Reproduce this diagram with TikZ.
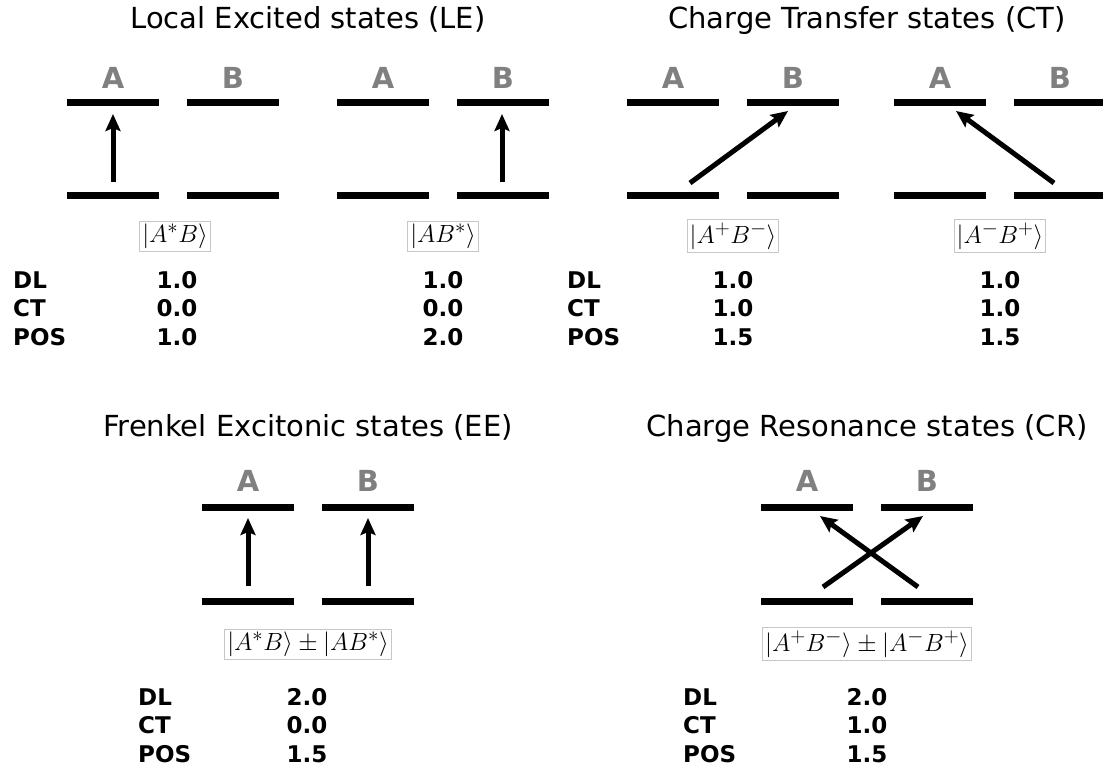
\documentclass[tikz,border=0pt]{standalone}
\usepackage[no-math]{fontspec}
\newfontfamily\dejavu{DejaVu Sans}
\DeclareMathSizes{27}{27}{21}{17}
\usetikzlibrary{arrows.meta}
\begin{document}
\begin{tikzpicture}[x=1pt,y=-1pt,
  level/.style={fill=black, inner sep=0pt, minimum width=92pt, minimum height=7pt},
  orb/.style={font=\dejavu\bfseries\fontsize{29}{29}\selectfont, text=black!50, anchor=base, inner sep=0pt},
  ket/.style={draw=black!22, line width=0.8pt, inner sep=2.5pt, font=\fontsize{27}{27}\selectfont},
  ttl/.style={font=\dejavu\fontsize{29}{29}\selectfont, anchor=base, inner sep=0pt},
  key/.style={font=\dejavu\bfseries\fontsize{23}{23}\selectfont, anchor=base west, inner sep=0pt},
  val/.style={font=\dejavu\bfseries\fontsize{23}{23}\selectfont, anchor=base, inner sep=0pt},
  exc/.style={line width=5pt, -{Stealth[length=17pt,width=15pt,inset=3pt]}}]
\useasboundingbox (0,0) rectangle (1103,774);

% titles
\node[ttl] (t1) at (308,28) {Local Excited states (LE)};
\node[ttl] (t2) at (867,28) {Charge Transfer states (CT)};
\node[ttl] (t3) at (308,436) {Frenkel Excitonic states (EE)};
\node[ttl] (t4) at (867,436) {Charge Resonance states (CR)};

% panel 1
\begin{scope}[shift={(67,0)}]
\node[level] (p1At) at (46,102) {};
\node[level] (p1Bt) at (166,102) {};
\node[level] (p1Ab) at (46,195) {};
\node[level] (p1Bb) at (166,195) {};
\node[orb] (p1A) at (46,88) {A};
\node[orb] (p1B) at (166,88) {B};
\node[ket] (p1k) at (108,236) {$|A^{*}B\rangle$};
\coordinate (p1s) at (46,182);
\coordinate (p1e) at (46,114);
\end{scope}
\draw[exc] (p1s) -- (p1e);

% panel 2
\begin{scope}[shift={(337,0)}]
\node[level] (p2At) at (46,102) {};
\node[level] (p2Bt) at (166,102) {};
\node[level] (p2Ab) at (46,195) {};
\node[level] (p2Bb) at (166,195) {};
\node[orb] (p2A) at (46,88) {A};
\node[orb] (p2B) at (166,88) {B};
\node[ket] (p2k) at (106,236) {$|AB^{*}\rangle$};
\coordinate (p2s) at (165,182);
\coordinate (p2e) at (165,114);
\end{scope}
\draw[exc] (p2s) -- (p2e);

% panel 3
\begin{scope}[shift={(627,0)}]
\node[level] (p3At) at (46,102) {};
\node[level] (p3Bt) at (166,102) {};
\node[level] (p3Ab) at (46,195) {};
\node[level] (p3Bb) at (166,195) {};
\node[orb] (p3A) at (46,88) {A};
\node[orb] (p3B) at (166,88) {B};
\node[ket] (p3k) at (106,236) {$|A^{+}B^{-}\rangle$};
\coordinate (p3s) at (63,183);
\coordinate (p3e) at (161,111);
\end{scope}
\draw[exc] (p3s) -- (p3e);

% panel 4
\begin{scope}[shift={(894,0)}]
\node[level] (p4At) at (46,102) {};
\node[level] (p4Bt) at (166,102) {};
\node[level] (p4Ab) at (46,195) {};
\node[level] (p4Bb) at (166,195) {};
\node[orb] (p4A) at (46,88) {A};
\node[orb] (p4B) at (166,88) {B};
\node[ket] (p4k) at (106,236) {$|A^{-}B^{+}\rangle$};
\coordinate (p4s) at (160,183);
\coordinate (p4e) at (62,111);
\end{scope}
\draw[exc] (p4s) -- (p4e);

% panel EE
\begin{scope}[shift={(202,0)}]
\node[level] (p5At) at (46,507) {};
\node[level] (p5Bt) at (166,507) {};
\node[level] (p5Ab) at (46,601) {};
\node[level] (p5Bb) at (166,601) {};
\node[orb] (p5A) at (46,491) {A};
\node[orb] (p5B) at (166,491) {B};
\node[ket] (p5k) at (106,644) {$|A^{*}B\rangle\pm|AB^{*}\rangle$};
\coordinate (p5s1) at (46,586);
\coordinate (p5e1) at (46,518);
\coordinate (p5s2) at (166,586);
\coordinate (p5e2) at (166,518);
\end{scope}
\draw[exc] (p5s1) -- (p5e1);
\draw[exc] (p5s2) -- (p5e2);

% panel CR
\begin{scope}[shift={(761,0)}]
\node[level] (p6At) at (46,507) {};
\node[level] (p6Bt) at (166,507) {};
\node[level] (p6Ab) at (46,601) {};
\node[level] (p6Bb) at (166,601) {};
\node[orb] (p6A) at (46,491) {A};
\node[orb] (p6B) at (166,491) {B};
\node[ket] (p6k) at (106,644) {$|A^{+}B^{-}\rangle\pm|A^{-}B^{+}\rangle$};
\coordinate (p6s1) at (62,587);
\coordinate (p6e1) at (162,516);
\coordinate (p6s2) at (157,587);
\coordinate (p6e2) at (59,516);
\end{scope}
\draw[exc] (p6s1) -- (p6e1);
\draw[exc] (p6s2) -- (p6e2);

% tables
\node[key] (k1a) at (13,288) {DL};
\node[key] (k1b) at (13,316.5) {CT};
\node[key] (k1c) at (13,345) {POS};
\node[val] (v1a) at (177,288) {1.0};
\node[val] (v1b) at (177,316.5) {0.0};
\node[val] (v1c) at (177,345) {1.0};
\node[val] (v2a) at (443,288) {1.0};
\node[val] (v2b) at (443,316.5) {0.0};
\node[val] (v2c) at (443,345) {2.0};

\node[key] (k3a) at (567,288) {DL};
\node[key] (k3b) at (567,316.5) {CT};
\node[key] (k3c) at (567,345) {POS};
\node[val] (v3a) at (733,288) {1.0};
\node[val] (v3b) at (733,316.5) {1.0};
\node[val] (v3c) at (733,345) {1.5};
\node[val] (v4a) at (1000,288) {1.0};
\node[val] (v4b) at (1000,316.5) {1.0};
\node[val] (v4c) at (1000,345) {1.5};

\node[key] (k5a) at (138,705) {DL};
\node[key] (k5b) at (138,733.5) {CT};
\node[key] (k5c) at (138,762) {POS};
\node[val] (v5a) at (307,705) {2.0};
\node[val] (v5b) at (307,733.5) {0.0};
\node[val] (v5c) at (307,762) {1.5};

\node[key] (k6a) at (683,705) {DL};
\node[key] (k6b) at (683,733.5) {CT};
\node[key] (k6c) at (683,762) {POS};
\node[val] (v6a) at (867,705) {2.0};
\node[val] (v6b) at (867,733.5) {1.0};
\node[val] (v6c) at (867,762) {1.5};
\end{tikzpicture}
\end{document}
